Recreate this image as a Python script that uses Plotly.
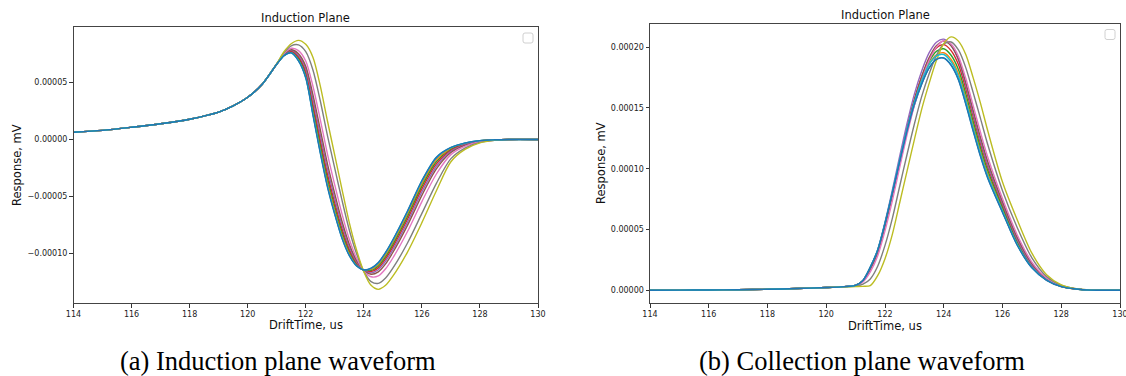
import plotly.graph_objects as go

W, H = 1126, 376
SCALE = 1e-5  # values below are in units of 1e-5 mV

COLORS = ["#1f77b4", "#ff7f0e", "#2ca02c", "#d62728", "#9467bd",
          "#8c564b", "#e377c2", "#7f7f7f", "#bcbd22", "#17becf", "#1f77b4"]

# ---------------- Induction plane ----------------
IND_X_HEAD = [114, 115, 116, 117, 118, 119, 119.5, 120, 120.5]
IND_Y_HEAD = [0.64, 0.80, 1.07, 1.38, 1.78, 2.40, 2.95, 3.70, 4.85]
IND_X = [121, 121.25, 121.5, 121.75, 122, 122.25, 122.5, 122.75, 123, 123.25,
         123.5, 123.75, 124, 124.25, 124.5, 124.75, 125, 125.5, 126, 126.5,
         127, 127.5, 128, 128.5]
IND_X_TAIL = [129, 130]
IND_Y_TAIL = [0.0, 0.0]

IND_C0 = [6.60, 7.36, 7.62, 6.95, 5.49, 2.25, -1.02, -4.03, -6.44, -8.57, -10.11, -11.06,
          -11.45, -11.35, -10.87, -9.99, -8.90, -6.41, -3.71, -1.64, -0.74, -0.32, -0.11, -0.03]
IND_C1 = [6.60, 7.38, 7.66, 7.04, 5.64, 2.51, -0.73, -3.74, -6.18, -8.36, -9.97, -10.99,
          -11.46, -11.42, -10.99, -10.13, -9.06, -6.59, -3.90, -1.79, -0.80, -0.34, -0.12, -0.03]
IND_C2 = [6.61, 7.40, 7.71, 7.15, 5.81, 2.81, -0.37, -3.39, -5.87, -8.10, -9.79, -10.90,
          -11.47, -11.51, -11.13, -10.31, -9.25, -6.80, -4.12, -1.96, -0.88, -0.38, -0.13, -0.04]
IND_C3 = [6.61, 7.42, 7.76, 7.26, 5.99, 3.12, -0.02, -3.04, -5.56, -7.84, -9.62, -10.82,
          -11.48, -11.60, -11.27, -10.48, -9.44, -7.02, -4.34, -2.14, -0.95, -0.41, -0.14, -0.04]
IND_C4 = [6.61, 7.44, 7.82, 7.39, 6.20, 3.48, 0.39, -2.63, -5.20, -7.54, -9.42, -10.72,
          -11.49, -11.71, -11.43, -10.68, -9.66, -7.27, -4.60, -2.35, -1.04, -0.45, -0.15, -0.04]
IND_C5 = [6.62, 7.47, 7.88, 7.53, 6.43, 3.89, 0.87, -2.17, -4.78, -7.20, -9.19, -10.61,
          -11.50, -11.83, -11.62, -10.92, -9.92, -7.56, -4.90, -2.58, -1.14, -0.49, -0.17, -0.05]
IND_C6 = [6.63, 7.53, 8.00, 7.80, 6.88, 4.65, 1.75, -1.30, -4.00, -6.55, -8.75, -10.40,
          -11.53, -12.05, -11.98, -11.35, -10.40, -8.10, -5.45, -3.03, -1.33, -0.58, -0.20, -0.06]
IND_C7 = [6.64, 7.62, 8.22, 8.30, 7.70, 6.08, 3.40, 0.32, -2.54, -5.35, -7.94, -10.01,
          -11.57, -12.47, -12.63, -12.16, -11.30, -9.11, -6.49, -3.85, -1.68, -0.73, -0.26, -0.07]
IND_C8 = [6.65, 7.70, 8.40, 8.70, 8.35, 7.20, 4.70, 1.60, -1.40, -4.40, -7.30, -9.70,
          -11.60, -12.80, -13.15, -12.80, -12.00, -9.90, -7.30, -4.50, -1.95, -0.85, -0.30, -0.08]
IND_C9 = [6.60, 7.36, 7.61, 6.93, 5.44, 2.18, -1.11, -4.11, -6.52, -8.64, -10.16, -11.08,
          -11.45, -11.32, -10.84, -9.94, -8.85, -6.35, -3.66, -1.59, -0.72, -0.31, -0.10, -0.03]
IND_C10 = [6.60, 7.35, 7.60, 6.90, 5.40, 2.10, -1.20, -4.20, -6.60, -8.70, -10.20, -11.10,
           -11.45, -11.30, -10.80, -9.90, -8.80, -6.30, -3.60, -1.55, -0.70, -0.30, -0.10, -0.03]
IND_CURVES = [IND_C0, IND_C1, IND_C2, IND_C3, IND_C4, IND_C5, IND_C6, IND_C7, IND_C8, IND_C9, IND_C10]

# ---------------- Collection plane ----------------
COL_X_HEAD = [114, 115, 116, 117, 118, 119, 120, 120.5]
COL_Y_HEAD = [0.00, 0.01, 0.02, 0.04, 0.08, 0.14, 0.22, 0.28]
COL_X = [121, 121.25, 121.5, 121.75, 122, 122.25, 122.5, 122.75, 123, 123.25, 123.5,
         123.75, 124, 124.25, 124.5, 124.75, 125, 125.25, 125.5, 126, 126.5, 127,
         127.5, 128, 128.5]
COL_X_TAIL = [129, 130]
COL_Y_TAIL = [0.01, 0.0]

COL_C0 = [0.40, 0.79, 1.87, 3.26, 5.44, 7.93, 10.53, 13.03, 15.24, 16.96, 18.27, 19.00,
          19.12, 18.55, 17.36, 15.38, 13.19, 11.08, 9.26, 6.45, 3.74, 1.86, 0.83, 0.30, 0.10]
COL_C1 = [0.40, 0.79, 1.86, 3.26, 5.46, 7.99, 10.64, 13.19, 15.46, 17.23, 18.60, 19.37,
          19.54, 18.99, 17.81, 15.81, 13.59, 11.44, 9.58, 6.66, 3.88, 1.94, 0.86, 0.31, 0.10]
COL_C2 = [0.41, 0.79, 1.84, 3.24, 5.45, 8.00, 10.69, 13.29, 15.60, 17.42, 18.83, 19.66,
          19.87, 19.34, 18.17, 16.18, 13.92, 11.75, 9.85, 6.83, 4.01, 2.00, 0.89, 0.32, 0.11]
COL_C3 = [0.41, 0.78, 1.80, 3.20, 5.41, 7.97, 10.70, 13.34, 15.70, 17.59, 19.05, 19.94,
          20.21, 19.72, 18.57, 16.59, 14.31, 12.10, 10.15, 7.04, 4.15, 2.08, 0.92, 0.33, 0.11]
COL_C4 = [0.42, 0.81, 1.88, 3.32, 5.60, 8.23, 11.03, 13.73, 16.14, 18.05, 19.53, 20.41,
          20.66, 20.14, 18.94, 16.89, 14.56, 12.30, 10.31, 7.15, 4.21, 2.10, 0.93, 0.34, 0.11]
COL_C5 = [0.40, 0.75, 1.69, 3.05, 5.22, 7.76, 10.52, 13.19, 15.60, 17.57, 19.12, 20.12,
          20.50, 20.11, 19.02, 17.08, 14.82, 12.59, 10.58, 7.31, 4.37, 2.20, 0.96, 0.35, 0.11]
COL_C6 = [0.39, 0.69, 1.52, 2.82, 4.89, 7.36, 10.11, 12.78, 15.22, 17.27, 18.90, 20.01,
          20.53, 20.26, 19.26, 17.44, 15.21, 13.00, 10.94, 7.54, 4.57, 2.32, 1.01, 0.36, 0.11]
COL_C7 = [0.34, 0.50, 0.93, 1.97, 3.69, 5.91, 8.56, 11.17, 13.68, 15.95, 17.80, 19.31,
          20.28, 20.43, 19.77, 18.32, 16.28, 14.14, 11.97, 8.19, 5.17, 2.67, 1.13, 0.41, 0.12]
COL_C8 = [0.30, 0.32, 0.38, 1.20, 2.60, 4.60, 7.20, 9.80, 12.40, 14.90, 17.00, 18.90,
          20.30, 20.85, 20.50, 19.40, 17.50, 15.40, 13.10, 8.90, 5.80, 3.05, 1.28, 0.45, 0.12]
COL_C9 = [0.41, 0.81, 1.91, 3.33, 5.55, 8.09, 10.72, 13.26, 15.50, 17.23, 18.56, 19.28,
          19.40, 18.80, 17.59, 15.57, 13.34, 11.21, 9.37, 6.52, 3.78, 1.88, 0.84, 0.30, 0.10]
COL_C10 = [0.40, 0.80, 1.90, 3.30, 5.50, 8.00, 10.60, 13.10, 15.30, 17.00, 18.30, 19.00,
           19.10, 18.50, 17.30, 15.30, 13.10, 11.00, 9.20, 6.40, 3.70, 1.84, 0.82, 0.30, 0.10]
COL_CURVES = [COL_C0, COL_C1, COL_C2, COL_C3, COL_C4, COL_C5, COL_C6, COL_C7, COL_C8, COL_C9, COL_C10]

# ---------------- Axis ticks / texts ----------------
X_TICKS = [114, 116, 118, 120, 122, 124, 126, 128, 130]
X_TICK_TEXT = ["114", "116", "118", "120", "122", "124", "126", "128", "130"]
IND_Y_TICKS = [-0.00010, -0.00005, 0.0, 0.00005]
IND_Y_TICK_TEXT = ["\u22120.00010", "\u22120.00005", "0.00000", "0.00005"]
COL_Y_TICKS = [0.0, 0.00005, 0.00010, 0.00015, 0.00020]
COL_Y_TICK_TEXT = ["0.00000", "0.00005", "0.00010", "0.00015", "0.00020"]

TITLE = "Induction Plane"
X_LABEL = "DriftTime, us"
Y_LABEL = "Response, mV"
CAPTIONS = ["(a) Induction plane waveform", "(b) Collection plane waveform"]

fig = go.Figure()

for i, ys in enumerate(IND_CURVES):
    fig.add_trace(go.Scatter(
        x=IND_X_HEAD + IND_X + IND_X_TAIL,
        y=[v * SCALE for v in IND_Y_HEAD + ys + IND_Y_TAIL],
        mode="lines", line=dict(color=COLORS[i], width=1.4, shape="spline", smoothing=0.8),
        xaxis="x", yaxis="y", showlegend=False, hoverinfo="skip"))

for i, ys in enumerate(COL_CURVES):
    fig.add_trace(go.Scatter(
        x=COL_X_HEAD + COL_X + COL_X_TAIL,
        y=[v * SCALE for v in COL_Y_HEAD + ys + COL_Y_TAIL],
        mode="lines", line=dict(color=COLORS[i], width=1.4, shape="spline", smoothing=0.8),
        xaxis="x2", yaxis="y2", showlegend=False, hoverinfo="skip"))


def px(v):
    return v / W


def py(v):
    return 1 - v / H


L_DOM_X = [px(73.5), px(538)]
R_DOM_X = [px(650), px(1120)]
L_DOM_Y = [py(303), py(27)]
R_DOM_Y = [py(303), py(23.5)]

tick_font = dict(family="DejaVu Sans", size=8, color="#222")
title_font = dict(family="DejaVu Sans", size=11.5, color="#111")
axis_common = dict(showline=True, mirror=True, linecolor="#444", linewidth=1,
                   ticks="outside", ticklen=3.5, tickwidth=0.8, tickcolor="#333",
                   showgrid=False, zeroline=False, tickfont=tick_font, automargin=False,
                   ticklabeloverflow="allow")

fig.update_layout(
    width=W, height=H,
    margin=dict(l=0, r=0, t=0, b=0, autoexpand=False),
    paper_bgcolor="white", plot_bgcolor="white",
    xaxis=dict(domain=L_DOM_X, anchor="y", range=[114, 130], tickvals=X_TICKS, ticktext=X_TICK_TEXT,
               **axis_common),
    yaxis=dict(domain=L_DOM_Y, anchor="x", range=[-0.0001435, 0.0000987],
               tickvals=IND_Y_TICKS, ticktext=IND_Y_TICK_TEXT, **axis_common),
    xaxis2=dict(domain=R_DOM_X, anchor="y2", range=[114, 130], tickvals=X_TICKS, ticktext=X_TICK_TEXT,
                **axis_common),
    yaxis2=dict(domain=R_DOM_Y, anchor="x2", range=[-0.0000105, 0.0002195],
                tickvals=COL_Y_TICKS, ticktext=COL_Y_TICK_TEXT, **axis_common),
)

caption_font = dict(family="Liberation Serif", size=26.5, color="black")
annotations = [
    # panel titles
    dict(text=TITLE, x=(L_DOM_X[0] + L_DOM_X[1]) / 2, y=py(18)),
    dict(text=TITLE, x=(R_DOM_X[0] + R_DOM_X[1]) / 2, y=py(14.5)),
    # x-axis titles
    dict(text=X_LABEL, x=(L_DOM_X[0] + L_DOM_X[1]) / 2, y=py(325)),
    dict(text=X_LABEL, x=(R_DOM_X[0] + R_DOM_X[1]) / 2, y=py(325.5)),
    # y-axis titles
    dict(text=Y_LABEL, x=px(17), y=py(165), textangle=-90),
    dict(text=Y_LABEL, x=px(601), y=py(163), textangle=-90),
]
annotations = [dict(a, xref="paper", yref="paper", showarrow=False, font=title_font,
                    xanchor="center", yanchor="middle") for a in annotations]
annotations += [
    dict(text=CAPTIONS[0], x=px(278), y=py(361), xref="paper", yref="paper",
         showarrow=False, font=caption_font, xanchor="center", yanchor="middle"),
    dict(text=CAPTIONS[1], x=px(862), y=py(361), xref="paper", yref="paper",
         showarrow=False, font=caption_font, xanchor="center", yanchor="middle"),
]
fig.update_layout(annotations=annotations)

# empty legend frames (legend with no entries)
legend_box = ("M -13,-6 L -7,-6 Q -5,-6 -5,-8 L -5,-14 Q -5,-16 -7,-16 L -13,-16 "
              "Q -15,-16 -15,-14 L -15,-8 Q -15,-6 -13,-6 Z")
for xr, yr in [("x domain", "y domain"), ("x2 domain", "y2 domain")]:
    fig.add_shape(type="path", path=legend_box, xref=xr, yref=yr,
                  xsizemode="pixel", ysizemode="pixel", xanchor=1, yanchor=1,
                  line=dict(color="#d0d0d0", width=1), fillcolor="rgba(255,255,255,0.8)")

fig.write_html("out.html")
